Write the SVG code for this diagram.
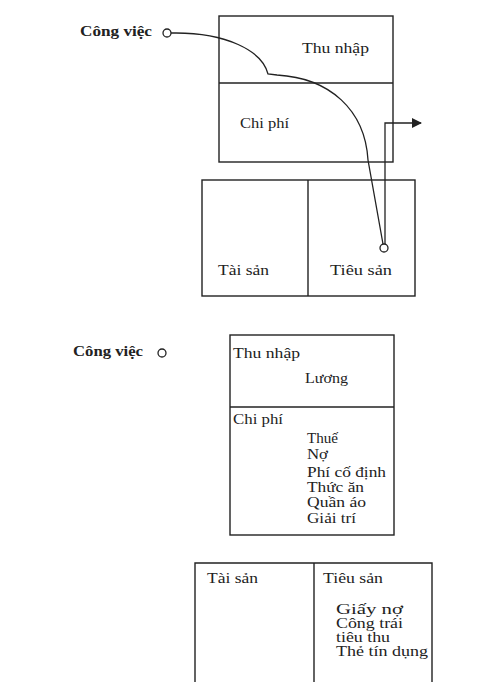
<svg xmlns="http://www.w3.org/2000/svg" width="479" height="682" viewBox="0 0 479 682">
<style>
.box{fill:none;stroke:#222;stroke-width:1.4}
.ln{fill:none;stroke:#222;stroke-width:1.3}
.dot{fill:#fff;stroke:#222;stroke-width:1.3}
text{font-family:"Liberation Serif","Times New Roman",serif;fill:#222}
.t{font-size:15px}
.s{font-size:14px}
.b{font-size:14px;font-weight:bold}
</style>
<defs>
<marker id="ah" markerWidth="10" markerHeight="10" refX="9" refY="5" orient="auto" markerUnits="userSpaceOnUse">
<path d="M0,0 L10,5 L0,10 Z" fill="#222"/>
</marker>
</defs>
<rect width="479" height="682" fill="#fff"/>

<g id="top-job">
<text class="b" x="80" y="36" textLength="72" lengthAdjust="spacingAndGlyphs">Công việc</text>
<circle class="dot" cx="167" cy="33" r="4"/>
</g>
<g id="top-income-expense">
<rect class="box" x="219" y="16" width="174" height="146"/>
<line class="box" x1="219" y1="83" x2="393" y2="83"/>
<text class="t" x="302" y="53" textLength="67" lengthAdjust="spacingAndGlyphs">Thu nhập</text>
<text class="t" x="240" y="128" textLength="49" lengthAdjust="spacingAndGlyphs">Chi phí</text>
</g>
<g id="top-assets">
<rect class="box" x="202" y="180" width="213" height="116"/>
<line class="box" x1="308" y1="180" x2="308" y2="296"/>
<text class="t" x="218" y="275" textLength="51" lengthAdjust="spacingAndGlyphs">Tài sản</text>
<text class="t" x="330" y="275" textLength="62" lengthAdjust="spacingAndGlyphs">Tiêu sản</text>
<circle class="dot" cx="384" cy="248" r="4"/>
</g>
<g id="connectors">
<path class="ln" d="M171,33 L176,33 C225,33 262,50 268,74 L277,75 C330,78 365,110 368,160 L383,244"/>
<path class="ln" d="M385,244 L385,123 L421,123" marker-end="url(#ah)"/>
</g>

<g id="bottom-job">
<text class="b" x="73" y="356" textLength="70" lengthAdjust="spacingAndGlyphs">Công việc</text>
<circle class="dot" cx="162" cy="353" r="4"/>
</g>
<g id="bottom-income-expense">
<rect class="box" x="230" y="335" width="164" height="200"/>
<line class="box" x1="230" y1="407" x2="394" y2="407"/>
<text class="s" x="233" y="358" textLength="67" lengthAdjust="spacingAndGlyphs">Thu nhập</text>
<text class="s" x="305" y="383" textLength="43" lengthAdjust="spacingAndGlyphs">Lương</text>
<text class="s" x="233" y="424" textLength="50" lengthAdjust="spacingAndGlyphs">Chi phí</text>
<text class="s" x="307" y="443" textLength="31" lengthAdjust="spacingAndGlyphs">Thuế</text>
<text class="s" x="307" y="459" textLength="21" lengthAdjust="spacingAndGlyphs">Nợ</text>
<text class="s" x="307" y="477" textLength="79" lengthAdjust="spacingAndGlyphs">Phí cố định</text>
<text class="s" x="307" y="492" textLength="57" lengthAdjust="spacingAndGlyphs">Thức ăn</text>
<text class="s" x="307" y="507" textLength="59" lengthAdjust="spacingAndGlyphs">Quần áo</text>
<text class="s" x="307" y="523" textLength="49" lengthAdjust="spacingAndGlyphs">Giải trí</text>
</g>
<g id="bottom-assets">
<path class="box" d="M195,690 L195,563 L432,563 L432,690"/>
<line class="box" x1="314" y1="563" x2="314" y2="690"/>
<text class="s" x="207" y="583" textLength="51" lengthAdjust="spacingAndGlyphs">Tài sản</text>
<text class="s" x="323" y="583" textLength="60" lengthAdjust="spacingAndGlyphs">Tiêu sản</text>
<text class="s" x="336" y="614" textLength="67" lengthAdjust="spacingAndGlyphs">Giấy nợ</text>
<text class="s" x="336" y="628" textLength="67" lengthAdjust="spacingAndGlyphs">Công trái</text>
<text class="s" x="336" y="642" textLength="54" lengthAdjust="spacingAndGlyphs">tiêu thu</text>
<text class="s" x="336" y="656" textLength="92" lengthAdjust="spacingAndGlyphs">Thẻ tín dụng</text>
</g>
</svg>
